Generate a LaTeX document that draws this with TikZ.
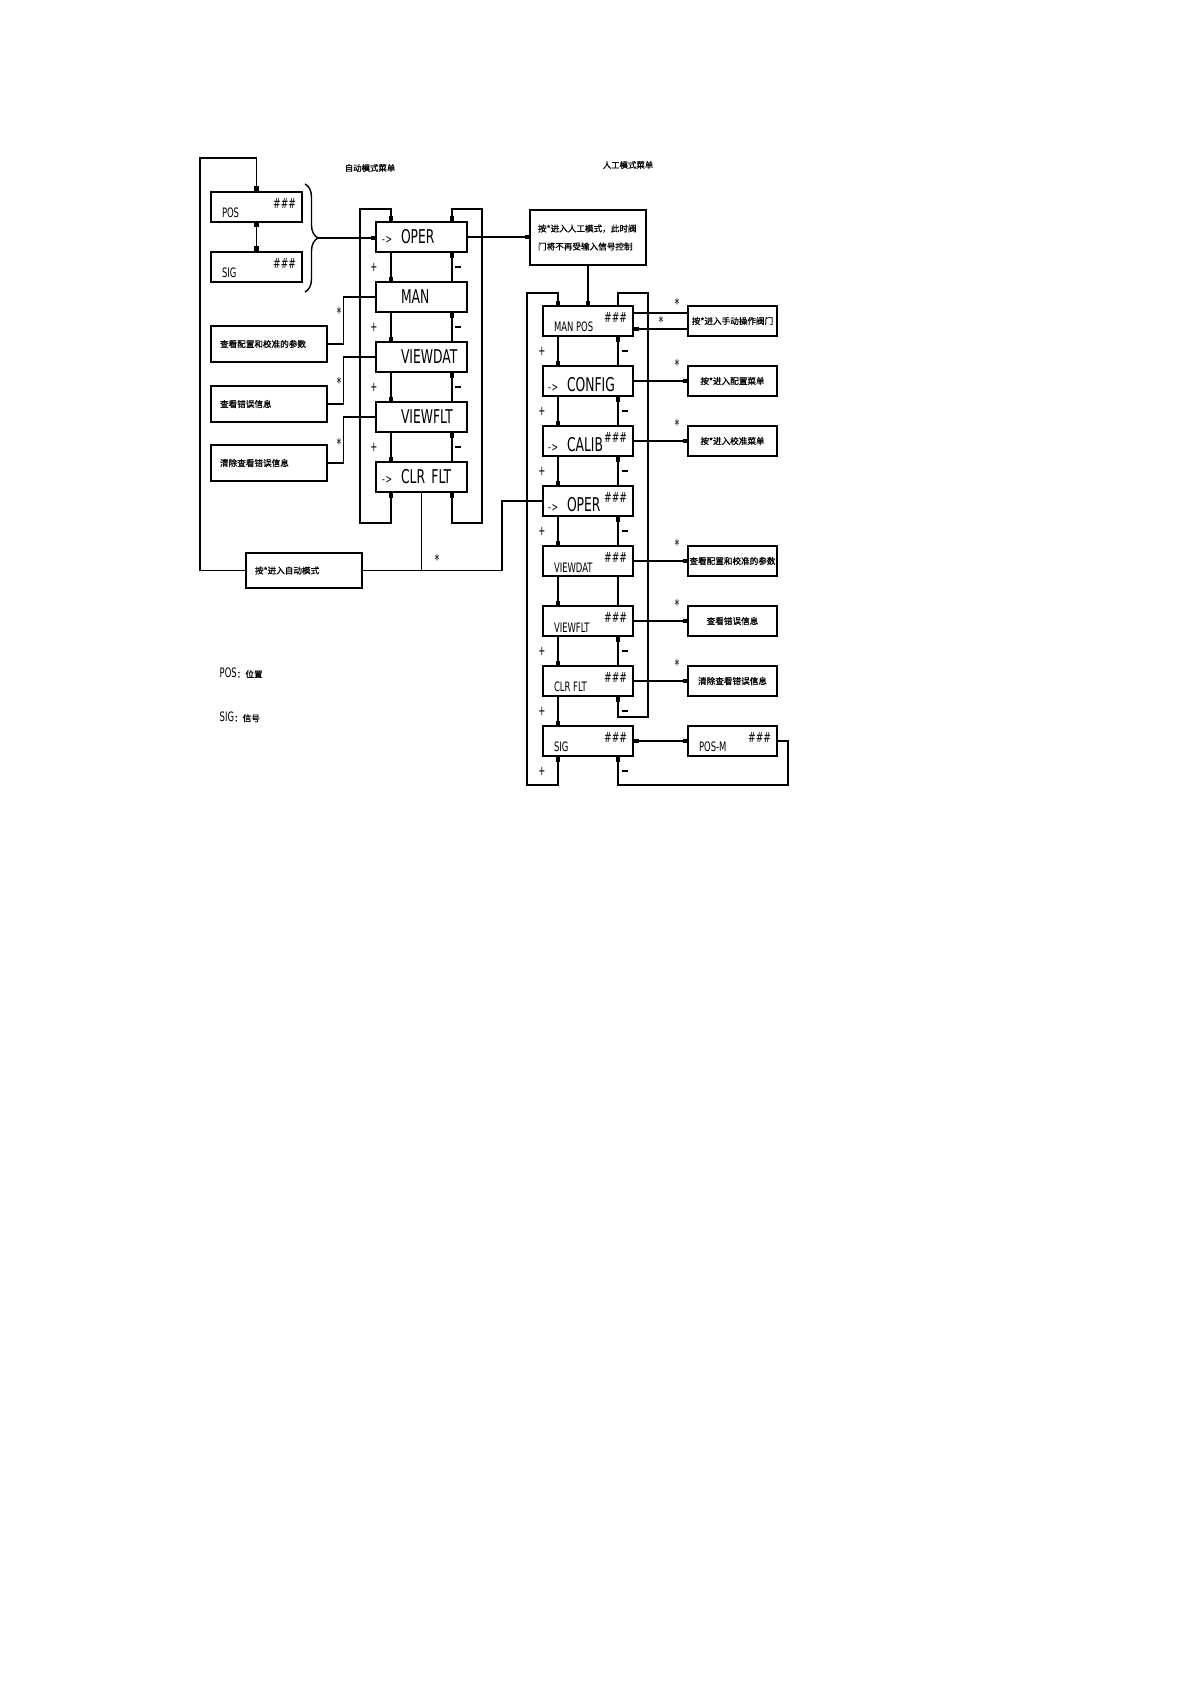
\documentclass[tikz,border=0pt]{standalone}
\usepackage{fontspec}
\setmainfont{DejaVu Sans}
\newfontfamily\narrowfont[FakeStretch=0.65]{DejaVu Sans}
\newfontfamily\cjkfont[FakeBold=1]{Noto Sans CJK SC}
\usetikzlibrary{arrows.meta,decorations.pathreplacing}

\newcommand{\arw}{\makebox[9.5pt][l]{\fontsize{6}{6}\selectfont -\kern.4pt>}}
\newcommand{\hashes}{\#\#\#}
\newcommand{\mns}{\rule{2.6pt}{0.7pt}}

\begin{document}
\begin{tikzpicture}[x=0.5pt, y=-0.5pt, line width=0.7pt,
  >={Square[length=2.4pt,width=2.4pt]},
  abox/.style={draw, minimum height=15pt, text width=39.5pt, inner xsep=3pt, inner ysep=0pt, align=left, font=\narrowfont\fontsize{9.5}{10}\selectfont},
  mbox/.style={draw, minimum height=15pt, text width=40pt, inner xsep=2.5pt, inner ysep=0pt, align=left, text height=10pt, text depth=0pt, font=\narrowfont\fontsize{9.5}{10}\selectfont},
  pbox/.style={draw, minimum width=45.5pt, minimum height=15pt},
  sbox/.style={draw, minimum width=44.5pt, minimum height=15pt, inner sep=0.5pt, font=\cjkfont\fontsize{4.3}{5}\selectfont},
  lbox/.style={draw, minimum height=18pt, text width=49pt, inner xsep=4.5pt, inner ysep=0pt, align=left, font=\cjkfont\fontsize{4.3}{5}\selectfont},
  infobox/.style={draw, minimum height=27.5pt, text width=50pt, inner xsep=4pt, align=left, font=\cjkfont\fontsize{4.3}{9}\selectfont},
  tag/.style={anchor=south west, inner sep=0pt, xshift=5.5pt, yshift=2pt, font=\narrowfont\fontsize{6.5}{7}\selectfont},
  hash/.style={anchor=north east, inner sep=0pt, xshift=-3pt, yshift=-3pt, font=\narrowfont\fontsize{7}{7}\selectfont},
  pm/.style={inner sep=0pt, font=\narrowfont\fontsize{6.5}{6}\selectfont},
  star/.style={inner sep=0pt, font=\narrowfont\fontsize{7.5}{7}\selectfont},
  ttl/.style={inner sep=0pt, font=\cjkfont\fontsize{4.2}{5}\selectfont},
]
\useasboundingbox (0,0) rectangle (1192,1685);
\fill[white] (0,0) rectangle (1192,1685);

% --- titles ---
\node[ttl] (tauto) at (370,168) {自动模式菜单};
\node[ttl] (tmanual) at (628,165) {人工模式菜单};

% --- auto mode menu ---
\node[pbox, label={[tag]south west:POS}, label={[hash]north east:\hashes}] (pos) at (256.5,207) {};
\node[pbox, label={[tag]south west:SIG}, label={[hash]north east:\hashes}] (sig) at (256.5,267) {};

\node[abox] (aoper) at (421.5,237) {\arw OPER};
\node[abox] (aman) at (421.5,297) {\hspace*{9.5pt}MAN};
\node[abox] (aviewdat) at (421.5,357) {\hspace*{9.5pt}VIEWDAT};
\node[abox] (aviewflt) at (421.5,417) {\hspace*{9.5pt}VIEWFLT};
\node[abox] (aclrflt) at (421.5,477) {\arw CLR FLT};

\node[lbox] (lb1) at (269,344) {查看配置和校准的参数};
\node[lbox] (lb2) at (269,404) {查看错误信息};
\node[lbox] (lb3) at (269,463) {清除查看错误信息};
\node[lbox, minimum height=17.5pt] (autobox) at (304,570.5) {按*进入自动模式};

\coordinate (lt) at (200,158);
\coordinate (atl) at (360,209);
\coordinate (al) at (391,523);
\coordinate (ar) at (452,523);
\coordinate (aor) at (482,523);
\coordinate (jx) at (502,570);
\coordinate (btip) at (318,238);

% brace round POS / SIG
\draw[decorate, decoration={brace, amplitude=6.5pt}] (305,184) -- (305,292);
\draw[->] (btip) -- (btip -| aoper.west);
\draw[<->] (pos.south) -- (sig.north);
\draw[->] (autobox.west) -| (lt) -| (pos.north);

% + chain and - chain
\draw[->] (aoper.south -| al) -- (aman.north -| al);
\draw[->] (aman.south -| al) -- (aviewdat.north -| al);
\draw[->] (aviewdat.south -| al) -- (aviewflt.north -| al);
\draw[->] (aviewflt.south -| al) -- (aclrflt.north -| al);
\draw[->] (aman.north -| ar) -- (aoper.south -| ar);
\draw[->] (aviewdat.north -| ar) -- (aman.south -| ar);
\draw[->] (aviewflt.north -| ar) -- (aviewdat.south -| ar);
\draw[->] (aclrflt.north -| ar) -- (aviewflt.south -| ar);
\draw[<->] (aclrflt.south -| al) -- (al) -| (atl) -| (aoper.north -| al);
\draw[<->] (aoper.north -| ar) -- (ar |- atl) -| (aor) -| (aclrflt.south -| ar);

\node[pm] (ap1) at (374,267) {+};
\node[pm] (ap2) at (374,327) {+};
\node[pm] (ap3) at (374,387) {+};
\node[pm] (ap4) at (374,447) {+};
\node[pm] (am1) at (458,267) {\mns};
\node[pm] (am2) at (458,327) {\mns};
\node[pm] (am3) at (458,387) {\mns};
\node[pm] (am4) at (458,447) {\mns};

% side boxes on the left
\draw (lb1.east) -- ++(16,0) |- (aman.west);
\draw (lb2.east) -- ++(16,0) |- (aviewdat.west);
\draw (lb3.east) -- ++(16,0) |- (aviewflt.west);
\node[star] (as1) at (339,313) {*};
\node[star] (as2) at (339,383) {*};
\node[star] (as3) at (339,444) {*};

% --- manual mode menu ---
\node[infobox] (info) at (588,237.5) {按*进入人工模式，此时阀\\门将不再受输入信号控制};
\draw[->] (aoper.east) -- (aoper.east -| info.west);

\node[mbox, label={[tag]south west:MAN POS}, label={[hash]north east:\hashes}] (mmanpos) at (588,321) {};
\node[mbox] (mconfig) at (588,381) {\arw CONFIG};
\node[mbox, label={[hash]north east:\hashes}] (mcalib) at (588,441) {\arw CALIB};
\node[mbox, label={[hash]north east:\hashes}] (moper) at (588,501) {\arw OPER};
\node[mbox, label={[tag]south west:VIEWDAT}, label={[hash]north east:\hashes}] (mviewdat) at (588,561) {};
\node[mbox, label={[tag]south west:VIEWFLT}, label={[hash]north east:\hashes}] (mviewflt) at (588,621) {};
\node[mbox, label={[tag]south west:CLR FLT}, label={[hash]north east:\hashes}] (mclrflt) at (588,681) {};
\node[mbox, label={[tag]south west:SIG}, label={[hash]north east:\hashes}] (msig) at (588,741) {};

\draw[->] (info.south) -- (info.south |- mmanpos.north);

% back to auto / over to manual
\draw (aclrflt.south) -- (aclrflt.south |- autobox.east);
\draw (autobox.east) -| (jx |- moper.west) -- (moper.west);
\node[star] (as4) at (437,560) {*};

\node[sbox] (s1) at (732.5,321) {按*进入手动操作阀门};
\node[sbox] (s2) at (732.5,381) {按*进入配置菜单};
\node[sbox] (s3) at (732.5,441) {按*进入校准菜单};
\node[sbox] (s4) at (732.5,561) {查看配置和校准的参数};
\node[sbox] (s5) at (732.5,621) {查看错误信息};
\node[sbox] (s6) at (732.5,681) {清除查看错误信息};
\node[sbox, label={[tag]south west:POS-M}, label={[hash]north east:\hashes}] (posm) at (732.5,741) {};

\coordinate (mtl) at (527,293);
\coordinate (ml) at (558,785);
\coordinate (mr) at (618,785);
\coordinate (mor) at (648,717);
\coordinate (pl) at (788,785);

% + chain and - chain
\draw[->] (mmanpos.south -| ml) -- (mconfig.north -| ml);
\draw[->] (mconfig.south -| ml) -- (mcalib.north -| ml);
\draw[->] (mcalib.south -| ml) -- (moper.north -| ml);
\draw[->] (moper.south -| ml) -- (mviewdat.north -| ml);
\draw[->] (mviewdat.south -| ml) -- (mviewflt.north -| ml);
\draw[->] (mviewflt.south -| ml) -- (mclrflt.north -| ml);
\draw[->] (mclrflt.south -| ml) -- (msig.north -| ml);
\draw[->] (mconfig.north -| mr) -- (mmanpos.south -| mr);
\draw[->] (mcalib.north -| mr) -- (mconfig.south -| mr);
\draw[->] (moper.north -| mr) -- (mcalib.south -| mr);
\draw[->] (mviewdat.north -| mr) -- (moper.south -| mr);
\draw (mviewflt.north -| mr) -- (mviewdat.south -| mr);
\draw[->] (mclrflt.north -| mr) -- (mviewflt.south -| mr);
\draw[<->] (msig.south -| ml) -- (ml) -| (mtl) -| (mmanpos.north -| ml);
\draw[->] (mmanpos.north -| mr) -- (mr |- mtl) -| (mor) -| (mclrflt.south -| mr);

\node[pm] (mp1) at (542,351) {+};
\node[pm] (mp2) at (542,411) {+};
\node[pm] (mp3) at (542,471) {+};
\node[pm] (mp4) at (542,531) {+};
\node[pm] (mp5) at (542,651) {+};
\node[pm] (mp6) at (542,711) {+};
\node[pm] (mp7) at (542,771) {+};
\node[pm] (mm1) at (625,351) {\mns};
\node[pm] (mm2) at (625,411) {\mns};
\node[pm] (mm3) at (625,471) {\mns};
\node[pm] (mm4) at (625,531) {\mns};
\node[pm] (mm5) at (625,651) {\mns};
\node[pm] (mm6) at (625,711) {\mns};
\node[pm] (mm7) at (625,771) {\mns};

% side boxes on the right
\draw ([yshift=4pt]mmanpos.east) -- ([yshift=4pt]s1.west);
\draw[<-] ([yshift=-4pt]mmanpos.east) -- ([yshift=-4pt]s1.west);
\draw[->] (mconfig.east) -- (s2.west);
\draw[->] (mcalib.east) -- (s3.west);
\draw[->] (mviewdat.east) -- (s4.west);
\draw[->] (mviewflt.east) -- (s5.west);
\draw[->] (mclrflt.east) -- (s6.west);
\draw[<->] (msig.east) -- (posm.west);
\draw[->] (posm.east) -| (pl) -| (msig.south -| mr);

\node[star] (ms1) at (677,304) {*};
\node[star] (ms2) at (661,322) {*};
\node[star] (ms3) at (677,365) {*};
\node[star] (ms4) at (677,425) {*};
\node[star] (ms5) at (677,545) {*};
\node[star] (ms6) at (677,605) {*};
\node[star] (ms7) at (677,665) {*};

% --- legend ---
\node[anchor=west, inner sep=0pt] (lgpos) at (219,673) {{\narrowfont\fontsize{6.5}{7}\selectfont POS}{\cjkfont\fontsize{4.3}{5}\selectfont ：位置}};
\node[anchor=west, inner sep=0pt] (lgsig) at (219,717) {{\narrowfont\fontsize{6.5}{7}\selectfont SIG}{\cjkfont\fontsize{4.3}{5}\selectfont ：信号}};

\end{tikzpicture}
\end{document}
